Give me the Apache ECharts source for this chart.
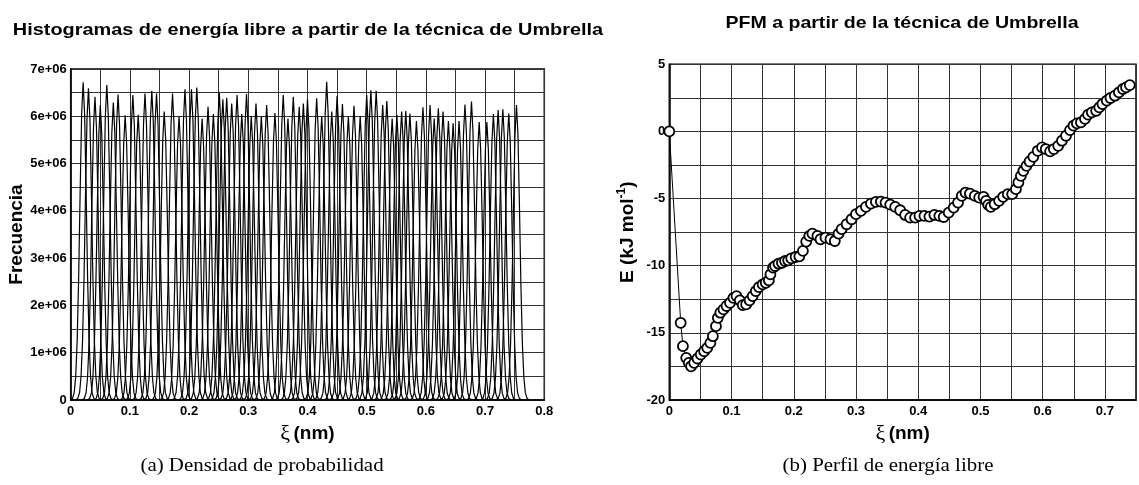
<!DOCTYPE html>
<html><head><meta charset="utf-8">
<script src="https://cdn.jsdelivr.net/npm/echarts@6/dist/echarts.min.js"></script>
<style>html,body{margin:0;padding:0;background:#fff}#c{width:1139px;height:485px}</style>
</head><body><div id="c"></div>
<script>
// ---------- Panel (a): umbrella window histograms ----------
const histCenters = [0.021,0.030,0.041,0.050,0.061,0.072,0.080,0.092,0.105,0.114,0.1255,0.137,0.145,0.158,0.172,0.183,0.193,0.204,0.213,0.222,0.232,0.241,0.251,0.257,0.2635,0.272,0.281,0.289,0.297,0.305,0.313,0.322,0.331,0.345,0.359,0.367,0.376,0.386,0.393,0.400,0.4155,0.424,0.4324,0.441,0.450,0.459,0.469,0.4785,0.489,0.500,0.507,0.516,0.527,0.534,0.543,0.551,0.559,0.566,0.573,0.584,0.595,0.607,0.614,0.621,0.629,0.638,0.646,0.656,0.666,0.677,0.690,0.703,0.714,0.722,0.730,0.740,0.753];
const histPeaks = [6.72e6,6.59e6,6.41e6,6.24e6,6.66e6,6.29e6,6.46e6,6.02e6,6.45e6,6.03e6,6.48e6,6.54e6,6.48e6,6.10e6,6.48e6,6.00e6,6.57e6,6.57e6,6.61e6,5.95e6,6.20e6,6.05e6,6.50e6,6.36e6,6.39e6,6.27e6,6.45e6,6.05e6,6.47e6,6.00e6,6.27e6,6.00e6,6.24e6,6.07e6,6.45e6,5.95e6,6.41e6,6.20e6,6.27e6,6.36e6,6.38e6,6.00e6,6.73e6,6.10e6,6.43e6,6.26e6,6.00e6,6.22e6,6.00e6,6.45e6,6.55e6,6.54e6,6.24e6,6.32e6,5.95e6,6.03e6,6.10e6,6.11e6,6.06e6,5.90e6,6.19e6,6.24e6,5.95e6,6.17e6,6.10e6,5.90e6,5.85e6,5.90e6,6.25e6,6.31e6,5.88e6,5.88e6,6.05e6,6.13e6,6.15e6,6.06e6,6.24e6];
// shape of one histogram (offset from its centre in nm, fraction of its peak)
const profileOffsets = [-0.022,-0.018,-0.015,-0.0125,-0.01,-0.0075,-0.005,-0.0025,0,0.0025,0.005,0.0075,0.01,0.0125,0.015,0.018,0.022];
const profileShape   = [0,0.005,0.024,0.076,0.19,0.39,0.66,0.9,1,0.9,0.66,0.39,0.19,0.076,0.024,0.005,0];

// ---------- Panel (b): free energy profile ----------
const pmfXi = [0,0.0183,0.0219,0.0272,0.0313,0.035,0.040,0.0453,0.0506,0.056,0.061,0.066,0.070,0.075,0.078,0.082,0.087,0.092,0.0976,0.103,0.108,0.1133,0.118,0.1235,0.129,0.134,0.139,0.144,0.150,0.155,0.160,0.1625,0.1667,0.170,0.1755,0.181,0.186,0.191,0.196,0.203,0.209,0.2147,0.220,0.225,0.230,0.238,0.243,0.251,0.259,0.266,0.272,0.277,0.285,0.293,0.300,0.308,0.316,0.324,0.332,0.340,0.3475,0.355,0.363,0.371,0.379,0.387,0.395,0.402,0.410,0.418,0.426,0.434,0.441,0.449,0.457,0.464,0.470,0.476,0.483,0.491,0.498,0.505,0.509,0.5125,0.5167,0.523,0.530,0.5365,0.544,0.551,0.557,0.561,0.565,0.569,0.574,0.579,0.585,0.592,0.599,0.605,0.612,0.618,0.625,0.631,0.6375,0.644,0.6495,0.655,0.6615,0.668,0.673,0.679,0.686,0.691,0.696,0.703,0.709,0.716,0.7225,0.729,0.734,0.740];
const pmfE = [0,-14.25,-15.99,-16.86,-17.23,-17.49,-17.23,-16.91,-16.61,-16.37,-16.12,-15.75,-15.25,-14.5,-13.88,-13.5,-13.25,-13.0,-12.76,-12.39,-12.26,-12.58,-12.93,-12.88,-12.58,-12.26,-11.89,-11.59,-11.39,-11.27,-11.09,-10.64,-10.14,-10.02,-9.85,-9.78,-9.65,-9.60,-9.45,-9.35,-9.3,-8.9,-8.2,-7.78,-7.61,-7.78,-8.03,-7.91,-8.03,-8.16,-7.61,-7.28,-6.91,-6.54,-6.16,-5.92,-5.62,-5.37,-5.25,-5.22,-5.30,-5.45,-5.62,-5.87,-6.22,-6.42,-6.42,-6.29,-6.29,-6.34,-6.22,-6.29,-6.37,-6.05,-5.67,-5.30,-4.80,-4.55,-4.63,-4.80,-4.93,-4.87,-5.17,-5.47,-5.62,-5.42,-5.17,-4.87,-4.67,-4.67,-4.30,-3.80,-3.31,-2.93,-2.56,-2.24,-1.89,-1.44,-1.19,-1.31,-1.49,-1.31,-1.07,-0.69,-0.32,0.10,0.43,0.60,0.67,0.93,1.25,1.42,1.54,1.79,2.04,2.29,2.49,2.66,2.91,3.16,3.28,3.45];

// ---------- Texts ----------
const titleA = 'Histogramas de energía libre a partir de la técnica de Umbrella';
const titleB = 'PFM a partir de la técnica de Umbrella';
const captionA = '(a) Densidad de probabilidad';
const captionB = '(b) Perfil de energía libre';
const yNameA = 'Frecuencia';

const SANS = '"Liberation Sans", Arial, Helvetica, sans-serif';
const SERIF = '"Liberation Serif", "DejaVu Serif", serif';

const chart = echarts.init(document.getElementById('c'), null, {renderer: 'canvas'});

function xLabel(v) {
  if (Math.abs(v * 10 - Math.round(v * 10)) > 1e-6) return '';
  return v === 0 ? '0' : (Math.round(v * 10) / 10).toFixed(1);
}
const labelStyle = {color: '#000', fontWeight: 'bold', fontSize: 13, fontFamily: SANS};
const splitStyle = {show: true, lineStyle: {color: '#333', width: 1}};
const axisLineStyle = {show: true, onZero: false, lineStyle: {color: '#000', width: 1.5}};
const xName = '{g|ξ} {b|(nm)}';
const xNameStyle = {rich: {
  g: {fontFamily: SERIF, fontSize: 22, color: '#000'},
  b: {fontFamily: SANS, fontWeight: 'bold', fontSize: 19, color: '#000'}
}};

const series = [];
histCenters.forEach((c, i) => {
  series.push({
    type: 'line', xAxisIndex: 0, yAxisIndex: 0, showSymbol: false, silent: true,
    lineStyle: {color: '#000', width: 1.2},
    data: profileOffsets.map((o, k) => [c + o, histPeaks[i] * profileShape[k]])
  });
});
series.push({
  type: 'line', xAxisIndex: 1, yAxisIndex: 1, silent: true,
  symbol: 'circle', symbolSize: 10, showAllSymbol: true,
  itemStyle: {color: '#fff', borderColor: '#000', borderWidth: 1.8},
  lineStyle: {color: '#000', width: 1},
  data: pmfXi.map((x, i) => [x, pmfE[i]])
});

const option = {
  animation: false,
  backgroundColor: '#fff',
  grid: [
    {left: 70.7, top: 69, width: 473.6, height: 331, show: true, borderColor: '#000', borderWidth: 1.5, backgroundColor: 'transparent'},
    {left: 669.3, top: 64.3, width: 480, height: 335.7, show: true, borderColor: '#000', borderWidth: 1.5, backgroundColor: 'transparent'}
  ],
  xAxis: [
    {type: 'value', gridIndex: 0, min: 0, max: 0.8, interval: 0.05,
     axisLine: axisLineStyle, axisTick: {show: false}, splitLine: splitStyle,
     axisLabel: Object.assign({margin: 5, formatter: xLabel}, labelStyle),
     name: xName, nameLocation: 'middle', nameGap: 20, nameTextStyle: xNameStyle},
    {type: 'value', gridIndex: 1, min: 0, max: 0.75, interval: 0.05,
     axisLine: axisLineStyle, axisTick: {show: false}, splitLine: splitStyle,
     axisLabel: Object.assign({margin: 5, formatter: xLabel}, labelStyle),
     name: xName, nameLocation: 'middle', nameGap: 20, nameTextStyle: xNameStyle}
  ],
  yAxis: [
    {type: 'value', gridIndex: 0, min: 0, max: 7e6, interval: 5e5,
     axisLine: axisLineStyle, axisTick: {show: false}, splitLine: splitStyle,
     axisLabel: Object.assign({margin: 4, formatter: v => v === 0 ? '0' : (v % 1e6 === 0 ? (v / 1e6) + 'e+06' : '')}, labelStyle),
     name: yNameA, nameLocation: 'middle', nameRotate: 90, nameGap: 44,
     nameTextStyle: {fontFamily: SANS, fontWeight: 'bold', fontSize: 19, color: '#000'}},
    {type: 'value', gridIndex: 1, min: -20, max: 5, interval: 2.5,
     axisLine: axisLineStyle, axisTick: {show: false}, splitLine: splitStyle,
     axisLabel: Object.assign({margin: 4, formatter: v => (v % 5 === 0 ? String(v) : '')}, labelStyle),
     name: '{a|E (kJ mol}{s|-1}{a|)}', nameLocation: 'middle', nameRotate: 90, nameGap: 30,
     nameTextStyle: {rich: {
       a: {fontFamily: SANS, fontWeight: 'bold', fontSize: 19, lineHeight: 24, color: '#000'},
       s: {fontFamily: SANS, fontWeight: 'bold', fontSize: 12, lineHeight: 12, verticalAlign: 'top', color: '#000'}
     }}}
  ],
  graphic: [
    {type: 'text', x: 308, y: 30, scaleX: 1.17, silent: true,
     style: {text: titleA, font: 'bold 17px ' + SANS, fill: '#000', align: 'center', verticalAlign: 'middle', textAlign: 'center', textVerticalAlign: 'middle'}},
    {type: 'text', x: 902, y: 23, scaleX: 1.15, silent: true,
     style: {text: titleB, font: 'bold 17px ' + SANS, fill: '#000', align: 'center', verticalAlign: 'middle', textAlign: 'center', textVerticalAlign: 'middle'}},
    {type: 'text', x: 262, y: 466, scaleX: 1.1, silent: true,
     style: {text: captionA, font: '19px ' + SERIF, fill: '#000', align: 'center', verticalAlign: 'middle', textAlign: 'center', textVerticalAlign: 'middle'}},
    {type: 'text', x: 888, y: 466, scaleX: 1.1, silent: true,
     style: {text: captionB, font: '19px ' + SERIF, fill: '#000', align: 'center', verticalAlign: 'middle', textAlign: 'center', textVerticalAlign: 'middle'}}
  ],
  series: series
};
chart.setOption(option);
</script>
</body></html>
